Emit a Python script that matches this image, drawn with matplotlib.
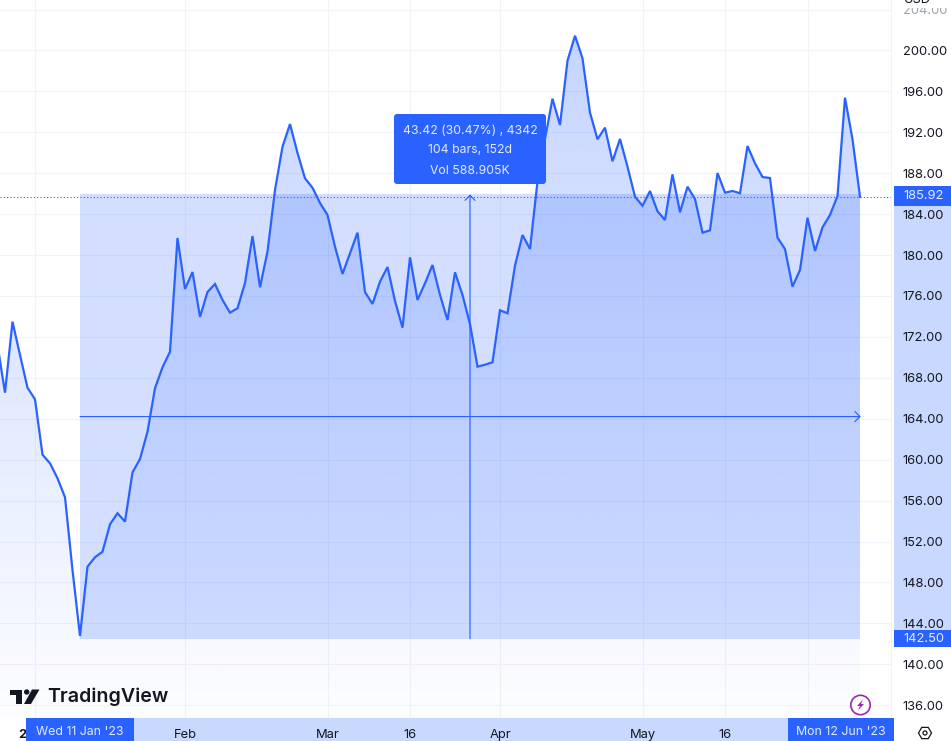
import numpy as np
import matplotlib
matplotlib.use("Agg")
import matplotlib.pyplot as plt
from matplotlib.patches import Rectangle, Polygon, Circle, FancyBboxPatch

plt.rcParams['font.family'] = ['Inter', 'DejaVu Sans']

W, H = 951, 741
BLUE = '#2962ff'
GRID = '#f0f3fa'
BAND = '#c9d8fe'
DARK = '#131722'
PALE = '#e3eaff'

# closing prices, one per bar, bar 0 is Wed 11 Jan '23
first_bar = -11
closes = [
    171.21, 166.55, 173.49, 170.23, 167.03, 165.90, 160.49, 159.64, 158.18, 156.32, 149.21,
    142.76, 149.54, 150.46, 151.00, 153.68, 154.76, 153.94, 158.76, 160.06, 162.73, 166.98,
    169.03, 170.55, 181.67, 176.68, 178.34, 173.95, 176.39, 177.17, 175.61, 174.37, 174.80,
    177.27, 181.86, 176.85, 180.33, 186.36, 190.59, 192.81, 189.98, 187.50, 186.58, 185.09,
    183.92, 180.82, 178.15, 180.17, 182.19, 176.39, 175.22, 177.40, 178.83, 175.51, 172.90,
    179.78, 175.61, 177.24, 179.03, 176.10, 173.65, 178.31, 176.10, 173.26, 169.09, 169.28,
    169.52, 174.60, 174.31, 178.96, 181.96, 180.59, 187.19, 191.35, 195.28, 192.71, 199.00,
    201.44, 199.23, 193.92, 191.32, 192.45, 189.17, 191.35, 188.64, 185.70, 184.82, 186.26,
    184.28, 183.43, 187.89, 184.18, 186.68, 185.48, 182.19, 182.42, 188.02, 186.10, 186.26,
    186.04, 190.66, 188.97, 187.63, 187.53, 181.70, 180.59, 176.91, 178.54, 183.65, 180.40,
    182.71, 183.92, 185.77, 195.38, 191.32, 185.70,
]
bars = np.arange(len(closes)) + first_bar

price_ticks = np.arange(136, 205, 4)
time_ticks = [-6, 14, 33, 44, 56, 75, 86, 97]
time_labels = ['2023', 'Feb', 'Mar', '16', 'Apr', 'May', '16', '']

measure_start, measure_end = 0, 104
measure_low, measure_high = 142.50, 185.92
tooltip_lines = ['43.42 (30.47%) , 4342', '104 bars, 152d', 'Vol 588.905K']

fig = plt.figure(figsize=(W / 100, H / 100), dpi=100, facecolor='white')


def px_axes(z):
    # full figure axes in pixel coordinates, for the chrome round the chart
    a = fig.add_axes([0, 0, 1, 1], zorder=z)
    a.set_xlim(0, W)
    a.set_ylim(H, 0)
    a.axis('off')
    return a


under = px_axes(0)
under.add_patch(Rectangle((894, 205), 57, 425, color=BAND, lw=0))
under.add_patch(Rectangle((26, 718), 868, 23, color=BAND, lw=0))

# main chart: 7.5 px per bar, 10.23 px per dollar
plot_w, plot_h = 891, 718
ax = fig.add_axes([0, 1 - plot_h / H, plot_w / W, plot_h / H], zorder=1)
xlim = (-80 / 7.5, (plot_w - 80) / 7.5)
ylim = (192 - (plot_h - 132.3) / 10.23, 192 + 132.3 / 10.23)

ax.set_axisbelow(True)
ax.grid(True, color=GRID, lw=0.8)
for s in ['top', 'left', 'bottom']:
    ax.spines[s].set_visible(False)
ax.spines['right'].set_color(GRID)
ax.spines['right'].set_linewidth(0.7)

# area under the line, fading downwards
ramp = np.zeros((256, 1, 4))
ramp[..., 0], ramp[..., 1], ramp[..., 2] = matplotlib.colors.to_rgb(BLUE)
ramp[:, 0, 3] = np.linspace(0.27, 0.01, 256)
img = ax.imshow(ramp, extent=(bars[0], bars[-1], ylim[0], max(closes)), aspect='auto',
                origin='upper', zorder=1.5, interpolation='bilinear')
area = Polygon(list(zip(bars, closes)) + [(bars[-1], ylim[0]), (bars[0], ylim[0])],
               transform=ax.transData, fc='none', ec='none')
ax.add_patch(area)
img.set_clip_path(area)

ax.plot(bars, closes, color=BLUE, lw=1.6, zorder=3, solid_joinstyle='miter')
ax.axhline(closes[-1], color=BLUE, lw=0.8, ls=(0, (1, 2)), zorder=2.5)

# measure tool
ax.add_patch(Rectangle((measure_start, measure_low), measure_end - measure_start,
                       measure_high - measure_low, fc=BLUE, alpha=0.2, lw=0, zorder=2))
mid_bar = (measure_start + measure_end) / 2
mid_price = (measure_low + measure_high) / 2
arrow = dict(arrowstyle='->,head_length=0.4,head_width=0.4', color=BLUE, lw=0.85,
             shrinkA=0, shrinkB=0, mutation_scale=9)
ax.annotate('', xy=(measure_end + 0.1, mid_price), xytext=(measure_start, mid_price),
            arrowprops=arrow, zorder=4)
ax.annotate('', xy=(mid_bar, measure_high), xytext=(mid_bar, measure_low),
            arrowprops=arrow, zorder=4)

ax.set_xlim(xlim)
ax.set_ylim(ylim)
ax.yaxis.tick_right()
ax.set_yticks(price_ticks, [f'{p:.2f}' for p in price_ticks])
ax.set_xticks(time_ticks, time_labels)
ax.tick_params(length=0, labelcolor=DARK, labelsize=9.3)
ax.tick_params(axis='y', pad=8.3)
ax.tick_params(axis='x', pad=8.1)
for lab in ax.get_yticklabels():
    lab.set_horizontalalignment('left')
    if lab.get_text() == '204.00':
        lab.set_color('#a0a3ad')
ax.get_xticklabels()[0].set_fontweight('bold')

top = px_axes(3)
top.patch.set_visible(False)

# USD header sits over the 204 label and is cut by the edge
top.add_patch(Rectangle((894, 0), 57, 7.5, color='white', lw=0))
top.text(917, 0, 'USD', ha='center', va='center', fontsize=9.3, color=DARK, clip_on=True)

# price labels
top.add_patch(Rectangle((894, 186), 57, 20, color=BLUE, lw=0))
top.text(903, 196, '185.92', va='center', fontsize=9.3, color=PALE)
top.add_patch(Rectangle((894, 630), 57, 17, color=BLUE, lw=0))
top.text(903, 638.5, '142.50', va='center', fontsize=9.3, color=PALE)

# time labels
top.add_patch(Rectangle((26, 718), 108, 23, color=BLUE, lw=0))
top.text(80, 732, "Wed 11 Jan '23", ha='center', va='center', fontsize=8.9, color=PALE)
top.add_patch(Rectangle((788, 718), 106, 23, color=BLUE, lw=0))
top.text(841, 732, "Mon 12 Jun '23", ha='center', va='center', fontsize=8.9, color=PALE)

# measure tooltip
top.add_patch(FancyBboxPatch((396, 116), 148, 66, boxstyle='round,pad=2,rounding_size=3',
                             fc=BLUE, ec='none'))
for yy, line in zip([130.5, 150, 170.5], tooltip_lines):
    top.text(470, yy, line, ha='center', va='center', fontsize=8.8, color=PALE)

# TradingView logo
top.add_patch(Polygon([(10, 689.5), (21.7, 689.5), (21.7, 704), (15.7, 704), (15.7, 695), (10, 695)],
                      fc=DARK, ec='none'))
top.add_patch(Circle((26.7, 692), 2.7, fc=DARK, ec='none'))
top.add_patch(Polygon([(32, 689.5), (39.5, 689.5), (31, 704), (24, 704)], fc=DARK, ec='none'))
top.text(47, 697, 'TradingView', va='center', fontsize=14.1, fontweight='semibold', color=DARK)

# lightning badge
top.add_patch(Circle((860.5, 705), 9.7, fc='white', ec='#9c27b0', lw=1.2))
top.add_patch(Polygon([(863, 699.5), (857, 706), (860, 706), (858, 710.5), (864, 704), (861, 704)],
                      fc='#9c27b0', ec='none'))

# settings hexagon
hx = 925 + 6.5 * np.sin(np.arange(6) * np.pi / 3 + np.pi / 2)
hy = 733 + 6.5 * np.cos(np.arange(6) * np.pi / 3 + np.pi / 2)
top.add_patch(Polygon(list(zip(hx, hy)), fc='none', ec=DARK, lw=0.9))
top.add_patch(Circle((925, 733), 2, fc='none', ec=DARK, lw=0.9))

fig.savefig('out.png', dpi=100)
